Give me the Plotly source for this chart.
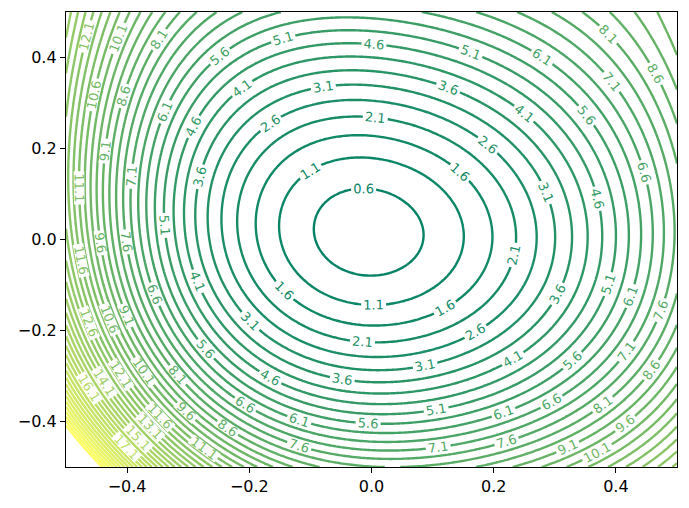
import numpy as np
import plotly.graph_objects as go

# contour crossings: (x, y, level)
# rays through the centre
right_x = [0.088, 0.152, 0.2, 0.238, 0.27, 0.3, 0.327, 0.352, 0.375, 0.397, 0.417, 0.436, 0.455, 0.474, 0.496]
right_lv = [0.6, 1.1, 1.6, 2.1, 2.6, 3.1, 3.6, 4.1, 4.6, 5.1, 5.6, 6.1, 6.6, 7.1, 7.6]
left_x = [-0.086, -0.147, -0.186, -0.217, -0.245, -0.27, -0.293, -0.311, -0.326, -0.34,
          -0.353, -0.365, -0.377, -0.388, -0.399, -0.409, -0.418, -0.428, -0.437, -0.447]
left_lv = [0.6, 1.1, 1.6, 2.1, 2.6, 3.1, 3.6, 4.1, 4.6, 5.1,
           5.6, 6.1, 6.6, 7.1, 7.6, 8.1, 8.6, 9.1, 9.6, 10.1]
top_y = [0.1046, 0.1815, 0.229, 0.271, 0.306, 0.339, 0.3706, 0.4014, 0.432, 0.461, 0.487]
top_lv = [0.6, 1.1, 1.6, 2.1, 2.6, 3.1, 3.6, 4.1, 4.6, 5.1, 5.6]
bot_y = [-0.0835, -0.147, -0.19, -0.223, -0.254, -0.283, -0.311, -0.336, -0.36, -0.384,
         -0.406, -0.429, -0.451, -0.472, -0.49]
bot_lv = [0.6, 1.1, 1.6, 2.1, 2.6, 3.1, 3.6, 4.1, 4.6, 5.1, 5.6, 6.1, 6.6, 7.1, 7.6]

# label positions
lab_x = [0.2585, 0.3032, 0.3478, 0.3984, 0.4392, 0.4583, 0.4773, 0.1943, 0.1562, 0.2604,
         0.382, 0.3167, 0.2188, 0.1671, 0.129, 0.0604, 0.0196, 0.238,
         0.4229, 0.3205, 0.4174, 0.4854, 0.4174, 0.2596, 0.4174, 0.2188, 0.393, 0.4609,
         -0.3282, -0.2003, -0.2601, -0.3228, -0.3118, -0.4207, -0.456, -0.4833]
lab_y = [0.445, 0.4417, 0.4381, 0.4381, 0.4396, 0.4563, 0.4783, 0.4176, 0.3464, 0.3391,
         0.3024, 0.2402, 0.2255, 0.1815, 0.258, 0.2138, -0.1444, -0.214,
         -0.2543, -0.302, -0.3202, -0.3253, -0.3495, -0.3664, -0.3956, -0.4338, -0.4448, -0.474,
         -0.28, -0.4338, -0.4228, -0.3824, -0.4558, 0.3134, 0.405, 0.4527]
lab_lv = [6.6, 7.1, 7.6, 8.1, 8.6, 9.1, 9.6, 5.6, 4.1, 5.1,
          6.1, 4.6, 3.1, 2.1, 2.6, 1.6, 1.1, 3.6,
          7.1, 6.1, 8.1, 9.1, 8.6, 6.6, 9.6, 7.6, 10.1, 12.1,
          8.1, 8.6, 9.6, 10.6, 12.6, 9.1, 11.1, 13.1]

# rough edge / corner values
extra_x = [0.5, -0.5, 0.5, -0.5, -0.5, -0.44, -0.44, -0.5]
extra_y = [0.5, 0.5, -0.5, -0.5, -0.42, -0.5, -0.40, 0.0]
extra_lv = [10.1, 14.2, 13.2, 29.0, 22.6, 22.6, 17.1, 12.4]

levels_start, levels_end, levels_step = 0.1, 22.6, 0.5

px = np.array(right_x + left_x + [0.0] * (len(top_y) + len(bot_y)) + lab_x + extra_x)
py = np.array([0.0] * (len(right_x) + len(left_x)) + top_y + bot_y + lab_y + extra_y)
pz = np.array(right_lv + left_lv + top_lv + bot_lv + lab_lv + extra_lv)


def basis(x, y):
    cols = [x**i * y**j for i in range(5) for j in range(5 - i)]
    cols.append(np.exp(-6 * (x + y)))
    return cols


# relative weighting so the small inner contours are fitted as well as the outer ones
w = 1.0 / (pz + 0.2)
A = np.column_stack(basis(px, py)) * w[:, None]
coef, *_ = np.linalg.lstsq(A, pz * w, rcond=None)

xs = np.linspace(-0.5, 0.5, 241)
ys = np.linspace(-0.5, 0.5, 241)
X, Y = np.meshgrid(xs, ys)
Z = sum(c * b for c, b in zip(coef, basis(X, Y)))

summer = [[0, "rgb(0,128,102)"], [1, "rgb(255,255,102)"]]

fig = go.Figure()
fig.add_trace(go.Contour(
    x=xs, y=ys, z=Z,
    autocontour=False,
    contours=dict(start=levels_start, end=levels_end, size=levels_step, coloring="lines",
                  showlabels=True, labelformat=".1f",
                  labelfont=dict(size=13, family="DejaVu Sans")),
    colorscale=summer, zmin=levels_start, zmax=levels_end,
    line=dict(width=2.4), showscale=False, hoverinfo="skip",
))

ticks = [-0.4, -0.2, 0.0, 0.2, 0.4]
ticktext = ["\u22120.4", "\u22120.2", "0.0", "0.2", "0.4"]
axis = dict(range=[-0.5, 0.5], tickvals=ticks, ticktext=ticktext, showgrid=False,
            zeroline=False, showline=True, mirror=True, linecolor="black",
            linewidth=1.3, ticks="outside", ticklen=5, tickwidth=1.3,
            tickcolor="black", tickfont=dict(size=16, color="black"))
# page body adds an 8px margin, so the figure is shrunk and shifted to compensate
fig.update_layout(
    width=681, height=500,
    margin=dict(l=58, r=12, t=4, b=41),
    paper_bgcolor="white", plot_bgcolor="white",
    font=dict(family="DejaVu Sans"),
    xaxis=axis, yaxis=axis,
)
fig.write_html("out.html")
